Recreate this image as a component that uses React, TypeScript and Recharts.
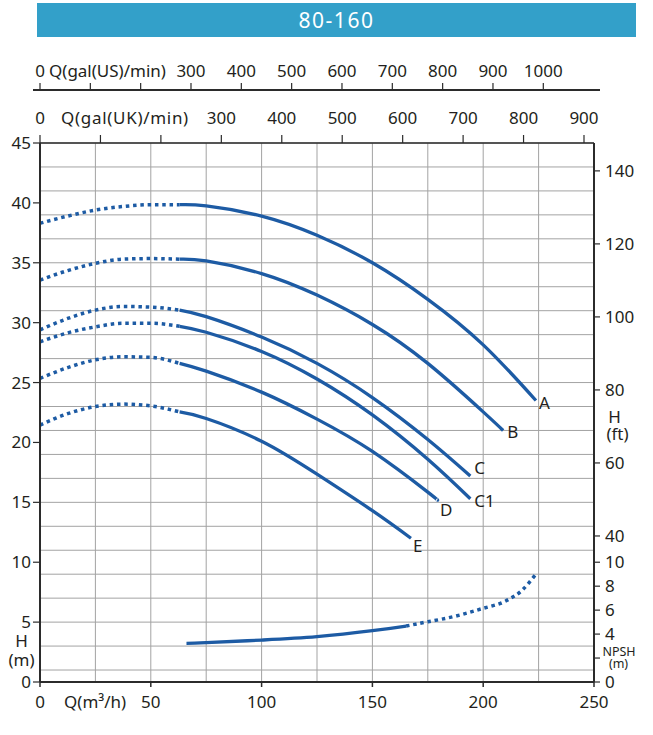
import React from 'react';
import { LineChart, Line, XAxis, YAxis, CartesianGrid, Label } from 'recharts';

const M3H_TO_USGPM = 4.4029;
const M3H_TO_UKGPM = 3.6662;
const M_TO_FT = 3.2808;

const BLUE = '#1d5ba4';
const INK = '#231f20';
const AXIS = '#2b2b2b';
const GRID = '#a3a3a3';
const FONT = '"Noto Sans", "Open Sans", sans-serif';

// axes
const qTicks = [0, 50, 100, 150, 200, 250];
const qGridLines = [0, 25, 50, 75, 100, 125, 150, 175, 200, 225, 250];
const hTicks = [0, 5, 10, 15, 20, 25, 30, 35, 40, 45];
const hGridLines = [
  0, 1, 2, 3, 4, 5, 6, 7, 8, 9, 10, 11, 12, 13, 14, 15, 16, 17, 18, 19, 20, 21, 22,
  23, 24, 25, 26, 27, 28, 29, 30, 31, 32, 33, 34, 35, 36, 37, 38, 39, 40, 41, 42, 43, 44, 45,
];
const usGpmTicks = [0, 100, 200, 300, 400, 500, 600, 700, 800, 900, 1000];
const ukGpmTicks = [0, 100, 200, 300, 400, 500, 600, 700, 800, 900];
const ftTicks = [40, 60, 80, 100, 120, 140];
const npshTicks = [0, 2, 4, 6, 8, 10];

// H-Q curves, flow in m3/h, head in m (first 6 points are the dotted part)
const qA = [0, 12.5, 25, 37.5, 50, 63, 75, 100, 125, 150, 175, 200, 223.8];
const hA = [38.3, 38.9, 39.4, 39.7, 39.85, 39.85, 39.75, 38.9, 37.3, 35.0, 31.95, 28.15, 23.5];
const qB = [0, 12.5, 25, 37.5, 50, 63, 75, 100, 125, 150, 175, 200, 209];
const hB = [33.55, 34.35, 34.95, 35.3, 35.35, 35.3, 35.15, 34.1, 32.3, 29.85, 26.6, 22.55, 21.0];
const qC = [0, 12.5, 25, 37.5, 50, 63, 75, 100, 125, 150, 175, 194.2];
const hC = [29.4, 30.35, 31.05, 31.35, 31.3, 31.05, 30.5, 28.8, 26.6, 23.75, 20.25, 17.2];
const qC1 = [0, 12.5, 25, 37.5, 50, 63, 75, 100, 125, 150, 175, 194.2];
const hC1 = [28.4, 29.15, 29.65, 29.95, 29.95, 29.7, 29.2, 27.6, 25.3, 22.3, 18.6, 15.3];
const qD = [0, 12.5, 25, 37.5, 50, 63, 75, 100, 125, 150, 175, 179.2];
const hD = [25.35, 26.25, 26.9, 27.15, 27.1, 26.6, 25.95, 24.2, 21.95, 19.25, 15.85, 15.2];
const qE = [0, 12.5, 25, 37.5, 50, 63, 75, 100, 125, 150, 167.4];
const hE = [21.45, 22.4, 23.0, 23.2, 23.05, 22.55, 22.0, 20.1, 17.35, 14.3, 12.0];

// NPSH curve
const qNpshSolid = [66.1, 75, 100, 125, 150, 165.2];
const hNpshSolid = [3.23, 3.28, 3.5, 3.78, 4.28, 4.67];
const qNpshDotted = [165.2, 175, 187.5, 200, 207.5, 212.5, 217.5, 223.8];
const hNpshDotted = [4.67, 5.03, 5.5, 6.15, 6.55, 7.0, 7.65, 9.0];

const DOT_SPLIT = 5;

const toPoints = (q: number[], h: number[]) => q.map((v, i) => ({ q: v, h: h[i] }));

const curves = [
  { name: 'A', q: qA, h: hA, off: [3, 2] },
  { name: 'B', q: qB, h: hB, off: [4, 2] },
  { name: 'C', q: qC, h: hC, off: [4, -7.5] },
  { name: 'C1', q: qC1, h: hC1, off: [4, 2] },
  { name: 'D', q: qD, h: hD, off: [3, 10] },
  { name: 'E', q: qE, h: hE, off: [2, 8] },
].map((c) => {
  const pts = toPoints(c.q, c.h);
  return { ...c, dotted: pts.slice(0, DOT_SPLIT + 1), solid: pts.slice(DOT_SPLIT) };
});

// invisible series so the gallon axes get a scale
const ukAnchor = ukGpmTicks.map((g) => ({ g, h: 0 }));
const usAnchor = usGpmTicks.map((g) => ({ g, h: 0 }));

const txt = { fontFamily: FONT, fontSize: 17, fill: INK };

const BottomTick = (p: any) => {
  const { x, y, payload } = p;
  return (
    <g>
      <text x={x} y={y + 12} textAnchor="middle" {...txt}>{payload.value}</text>
      {payload.value === 0 && (
        <text x={x + 24} y={y + 12} textAnchor="start" {...txt}>Q(m³/h)</text>
      )}
    </g>
  );
};

const topTick = (title: string, titleDx: number, spacing: number) => (p: any) => {
  const { x, y, payload } = p;
  const v = payload.value;
  if (v === 100 || v === 200) return <g />;
  return (
    <g>
      <text x={x} y={y} textAnchor="middle" {...txt}>{v}</text>
      {v === 0 && (
        <text x={x + titleDx} y={y} textAnchor="start" letterSpacing={spacing} {...txt}>{title}</text>
      )}
    </g>
  );
};

const LeftTick = (p: any) => {
  const { x, y, payload } = p;
  return <text x={x} y={y + 6} textAnchor="end" {...txt}>{payload.value}</text>;
};

const RightTick = (p: any) => {
  const { x, y, payload } = p;
  const v = payload.value;
  let label: string | number = '';
  if (Number.isInteger(v)) label = v === 2 ? '' : v;
  else label = Math.round(v * M_TO_FT);
  return <text x={x} y={y + 6} textAnchor="start" {...txt}>{label}</text>;
};

const LeftTitle = (p: any) => {
  const vb = p.viewBox;
  const cx = vb.x + 21.5;
  const by = vb.y + vb.height;
  return (
    <g>
      <text x={cx} y={by - 35} textAnchor="middle" {...txt}>H</text>
      <text x={cx} y={by - 16} textAnchor="middle" {...txt}>(m)</text>
    </g>
  );
};

const RightTitle = (p: any) => {
  const vb = p.viewBox;
  const by = vb.y + vb.height;
  return (
    <g>
      <text x={vb.x + 20.5} y={by - 259} textAnchor="middle" {...txt}>H</text>
      <text x={vb.x + 23.5} y={by - 242} textAnchor="middle" {...txt}>(ft)</text>
      <text x={vb.x + 25} y={by - 26} textAnchor="middle" {...txt} fontSize={12.5}>NPSH</text>
      <text x={vb.x + 24.5} y={by - 14} textAnchor="middle" {...txt} fontSize={12.5}>(m)</text>
    </g>
  );
};

const endLabel = (name: string, n: number, off: number[]) => (p: any) => {
  if (p.index !== n - 1) return <g key={p.index} />;
  return (
    <text key={p.index} x={p.x + off[0]} y={p.y + off[1] + 6} textAnchor="start" {...txt}>
      {name}
    </text>
  );
};

export default function App() {
  const rightTicks = [...npshTicks, ...ftTicks.map((f) => f / M_TO_FT)];
  return (
    <div style={{ position: 'absolute', left: 0, top: 0, width: 653, height: 735, background: '#fff' }}>
      <div style={{ position: 'absolute', left: 0, top: 0 }}>
        <LineChart width={653} height={735} margin={{ top: 0, right: 0, bottom: 0, left: 0 }}>
          <CartesianGrid
            xAxisId="q"
            yAxisId="h"
            stroke={GRID}
            strokeWidth={1}
            horizontalValues={hGridLines}
            verticalValues={qGridLines}
          />
          <XAxis
            xAxisId="q"
            type="number"
            dataKey="q"
            domain={[0, 250]}
            ticks={qTicks}
            allowDataOverflow
            height={53}
            tickSize={5}
            tickMargin={9}
            tick={BottomTick}
            axisLine={{ stroke: AXIS, strokeWidth: 2 }}
            tickLine={{ stroke: AXIS, strokeWidth: 1.5 }}
          />
          <XAxis
            xAxisId="uk"
            orientation="top"
            type="number"
            dataKey="g"
            domain={[0, 250 * M3H_TO_UKGPM]}
            ticks={ukGpmTicks}
            allowDataOverflow
            height={53}
            tickSize={8}
            tickMargin={11}
            tick={topTick('Q(gal(UK)/min)', 21, 0.7)}
            axisLine={{ stroke: AXIS, strokeWidth: 1.5 }}
            tickLine={{ stroke: AXIS, strokeWidth: 1.2 }}
          />
          <XAxis
            xAxisId="us"
            orientation="top"
            type="number"
            dataKey="g"
            domain={[0, 250 * M3H_TO_USGPM]}
            ticks={usGpmTicks}
            allowDataOverflow
            height={90}
            tickSize={7}
            tickMargin={6}
            tick={topTick('Q(gal(US)/min)', 9, 0)}
            axisLine={false}
            tickLine={{ stroke: AXIS, strokeWidth: 1.2 }}
          />
          <YAxis
            yAxisId="h"
            type="number"
            domain={[0, 45]}
            ticks={hTicks}
            allowDataOverflow
            width={40}
            tickSize={7}
            tickMargin={2}
            tick={LeftTick}
            axisLine={{ stroke: AXIS, strokeWidth: 2 }}
            tickLine={{ stroke: AXIS, strokeWidth: 1.2 }}
          >
            <Label content={LeftTitle} />
          </YAxis>
          <YAxis
            yAxisId="r"
            orientation="right"
            type="number"
            domain={[0, 45]}
            ticks={rightTicks}
            allowDataOverflow
            width={59}
            tickSize={6}
            tickMargin={5}
            tick={RightTick}
            axisLine={{ stroke: AXIS, strokeWidth: 2 }}
            tickLine={{ stroke: AXIS, strokeWidth: 1.2 }}
          >
            <Label content={RightTitle} />
          </YAxis>

          <Line xAxisId="uk" yAxisId="h" data={ukAnchor} dataKey="h" stroke="none" dot={false} activeDot={false} isAnimationActive={false} />
          <Line xAxisId="us" yAxisId="h" data={usAnchor} dataKey="h" stroke="none" dot={false} activeDot={false} isAnimationActive={false} />

          {curves.map((c) => (
            <Line
              key={c.name + '-dot'}
              xAxisId="q"
              yAxisId="h"
              data={c.dotted}
              dataKey="h"
              type="monotone"
              stroke={BLUE}
              strokeWidth={3.5}
              strokeDasharray="3.5 3.8"
              dot={false}
              activeDot={false}
              isAnimationActive={false}
            />
          ))}
          {curves.map((c) => (
            <Line
              key={c.name + '-solid'}
              xAxisId="q"
              yAxisId="h"
              data={c.solid}
              dataKey="h"
              type="natural"
              stroke={BLUE}
              strokeWidth={3.3}
              dot={false}
              activeDot={false}
              label={endLabel(c.name, c.solid.length, c.off)}
              isAnimationActive={false}
            />
          ))}
          <Line
            xAxisId="q"
            yAxisId="h"
            data={toPoints(qNpshSolid, hNpshSolid)}
            dataKey="h"
            type="natural"
            stroke={BLUE}
            strokeWidth={3.3}
            dot={false}
            activeDot={false}
            isAnimationActive={false}
          />
          <Line
            xAxisId="q"
            yAxisId="h"
            data={toPoints(qNpshDotted, hNpshDotted)}
            dataKey="h"
            type="natural"
            stroke={BLUE}
            strokeWidth={3.5}
            strokeDasharray="3.5 3.8"
            dot={false}
            activeDot={false}
            isAnimationActive={false}
          />
        </LineChart>
      </div>
      <div style={{ position: 'absolute', left: 33, top: 89, width: 567, height: 2, background: AXIS }} />
      <div
        style={{
          position: 'absolute',
          left: 37,
          top: 3,
          width: 599,
          height: 34,
          background: '#33a0c9',
          color: '#fff',
          fontFamily: FONT,
          fontSize: 21,
          lineHeight: '34px',
          textAlign: 'center',
          letterSpacing: 1.5,
        }}
      >
        80-160
      </div>
    </div>
  );
}
